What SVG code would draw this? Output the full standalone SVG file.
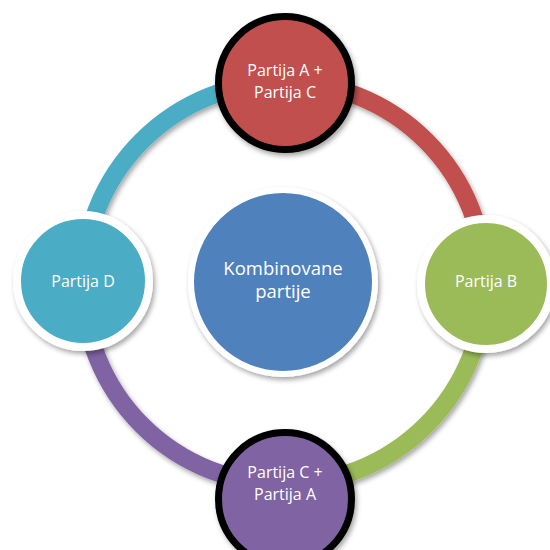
<svg xmlns="http://www.w3.org/2000/svg" width="550" height="550" viewBox="0 0 550 550">
  <defs>
    <filter id="sh" x="-20%" y="-20%" width="140%" height="140%">
      <feDropShadow dx="2" dy="3" stdDeviation="2.5" flood-color="#000" flood-opacity="0.35"/>
    </filter>
    <style>
      .arc { fill: none; stroke-width: 18; filter: url(#sh); }
      .lbl { font-family: "Open Sans", "Noto Sans", sans-serif; fill: #ffffff; text-anchor: middle; }
      .small { font-size: 16px; }
      .big { font-size: 18.5px; }
      .wb { stroke: #ffffff; stroke-width: 8; filter: url(#sh); }
      .bb { stroke: #000000; stroke-width: 7; filter: url(#sh); }
    </style>
  </defs>
  <rect width="550" height="550" fill="#ffffff"/>
  <g id="connectors">
    <path class="arc" stroke="#4BACC6" d="M 83 283 A 201 201 0 0 1 284 82"/>
    <path class="arc" stroke="#C0504D" d="M 284 82 A 201 201 0 0 1 485 283"/>
    <path class="arc" stroke="#9BBB59" d="M 485 283 A 201 201 0 0 1 284 484"/>
    <path class="arc" stroke="#8064A2" d="M 284 484 A 201 201 0 0 1 83 283"/>
  </g>
  <g id="center">
    <circle class="wb" cx="283" cy="282" r="92" fill="#4F81BD" style="stroke-width:6"/>
    <text class="lbl big" x="283" y="275">Kombinovane</text>
    <text class="lbl big" x="283" y="298">partije</text>
  </g>
  <g id="partija-d">
    <circle class="wb" cx="83" cy="281" r="66" fill="#4BACC6"/>
    <text class="lbl small" x="83" y="287">Partija D</text>
  </g>
  <g id="partija-b">
    <circle class="wb" cx="486" cy="284" r="65" fill="#9BBB59"/>
    <text class="lbl small" x="486" y="287">Partija B</text>
  </g>
  <g id="partija-ac">
    <circle class="bb" cx="285" cy="83" r="66.5" fill="#C0504D"/>
    <text class="lbl small" x="285" y="76">Partija A +</text>
    <text class="lbl small" x="285" y="98">Partija C</text>
  </g>
  <g id="partija-ca">
    <circle class="bb" cx="285" cy="499" r="66.5" fill="#8064A2"/>
    <text class="lbl small" x="285" y="478">Partija C +</text>
    <text class="lbl small" x="285" y="500">Partija A</text>
  </g>
</svg>
